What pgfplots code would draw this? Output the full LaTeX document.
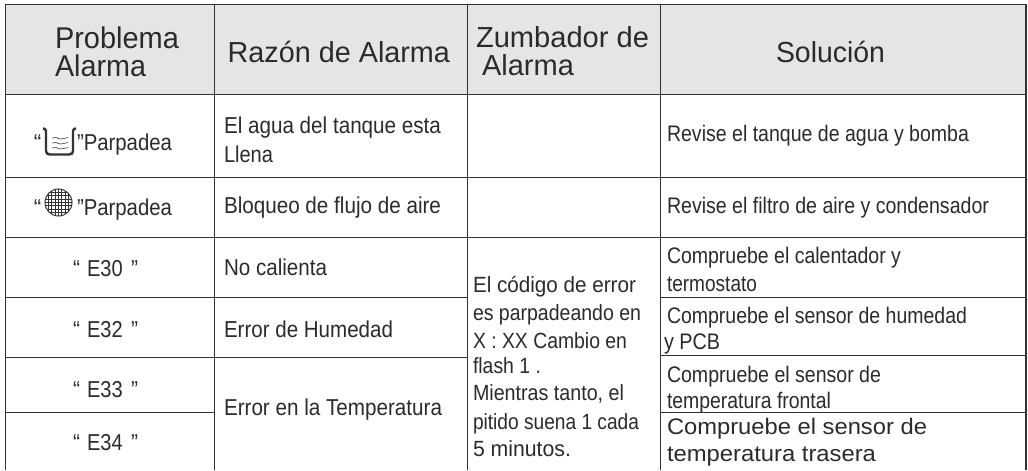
\documentclass[border=0pt]{standalone}
\usepackage{fontspec}
\setmainfont{Liberation Sans}
\usepackage{graphicx}
\usepackage{pgfplots}
\pgfplotsset{compat=1.18}
\definecolor{hdr}{HTML}{E3E5E7}
\definecolor{ink}{HTML}{2B2B2D}
\definecolor{rule}{HTML}{333335}
\newcommand{\seg}[5][0.95pt]{\addplot[draw=rule,line width=#1] coordinates {(#2,#3)(#4,#5)};}
% left, right, baseline, size, text
\newcommand{\txt}[5]{%
  \node[anchor=base west,inner sep=0pt,outer sep=0pt,text=ink] at (axis cs:#1,#3)
   {\resizebox{\dimexpr #2pt-#1pt\relax}{\height}{\fontsize{#4}{#4}\selectfont #5}};}
\begin{document}
\begin{tikzpicture}
\begin{axis}[
  scale only axis, width=1028pt, height=470pt,
  xmin=0, xmax=1028, ymin=0, ymax=470, y dir=reverse,
  hide axis, clip=false]
\addplot[fill=white,draw=none] coordinates {(0,0)(1028,0)(1028,470)(0,470)};
\addplot[fill=hdr,draw=none] coordinates {(5,5)(1026,5)(1026,94)(5,94)};
% rules
\seg[1.1pt]{4.5}{4.5}{1026.5}{4.5}
\seg{5}{4.5}{5}{470}
\seg[1.2pt]{1026}{4.5}{1026}{470}
\seg{214}{4.5}{214}{470}
\seg{467}{4.5}{467}{470}
\seg{660}{4.5}{660}{470}
\seg{5}{94.5}{1026}{94.5}
\seg{5}{177}{1026}{177}
\seg[1.5pt]{5}{237.5}{1026}{237.5}
\seg{5}{297.5}{467}{297.5}
\seg{5}{357}{467}{357}
\seg{5}{412.5}{214}{412.5}
\seg{660}{297}{1026}{297}
\seg{660}{355.5}{1026}{355.5}
\seg{660}{412.5}{1026}{412.5}
% header
\txt{55}{179}{49}{30}{Problema}
\txt{55}{146}{76.7}{30}{Alarma}
\txt{227.7}{450}{62.3}{29}{Razón de Alarma}
\txt{476}{649}{48}{29}{Zumbador de}
\txt{482}{574}{76}{29}{Alarma}
\txt{776}{885}{62.3}{29}{Solución}
% column 1
\txt{34}{41.5}{150.7}{23}{“}
\txt{77}{172}{150.7}{23}{”Parpadea}
\txt{34}{41.5}{215}{23}{“}
\txt{77}{172}{215}{23}{”Parpadea}
\txt{73}{80}{276}{23}{“}
\txt{87}{122.7}{276}{23}{E30}
\txt{131}{138}{276}{23}{”}
\txt{73}{80}{337}{23}{“}
\txt{87}{122.7}{337}{23}{E32}
\txt{131}{138}{337}{23}{”}
\txt{73}{80}{397}{23}{“}
\txt{87}{122.7}{397}{23}{E33}
\txt{131}{138}{397}{23}{”}
\txt{73}{80}{450}{23}{“}
\txt{87}{122.7}{450}{23}{E34}
\txt{131}{138}{450}{23}{”}
% column 2
\txt{224}{441}{134}{23}{El agua del tanque esta}
\txt{224}{273}{162}{23}{Llena}
\txt{224}{441}{213}{23}{Bloqueo de flujo de aire}
\txt{224}{327}{275}{23}{No calienta}
\txt{224}{393}{337}{23}{Error de Humedad}
\txt{224}{442}{415}{23}{Error en la Temperatura}
% column 3
\txt{473}{636}{292.7}{22}{El código de error}
\txt{473}{641}{320.7}{22}{es parpadeando en}
\txt{473}{627}{348.3}{22}{X : XX Cambio en}
\txt{473}{541}{373.3}{22}{flash 1 .}
\txt{473}{624}{400.7}{22}{Mientras tanto, el}
\txt{473}{639}{429}{22}{pitido suena 1 cada}
\txt{473}{571}{456}{22}{5 minutos.}
% column 4
\txt{667}{969}{141.7}{22.5}{Revise el tanque de agua y bomba}
\txt{667}{989}{213}{22.5}{Revise el filtro de aire y condensador}
\txt{667}{901}{263}{22.5}{Compruebe el calentador y}
\txt{667}{757}{291}{22.5}{termostato}
\txt{667}{967}{323}{22.5}{Compruebe el sensor de humedad}
\txt{664}{720}{349}{22.5}{y PCB}
\txt{667}{881}{382}{22.5}{Compruebe el sensor de}
\txt{667}{831}{408}{22.5}{temperatura frontal}
\txt{667}{927}{434}{22.5}{Compruebe el sensor de}
\txt{667}{876}{461}{22.5}{temperatura trasera}
% tank icon
\addplot[draw=rule,line width=2.4pt] coordinates {(43,128.5)(45,129)(46,131)(46,151)(47,153.5)(50,154.5)(69,154.5)(72,153.5)(73,151)(73,131)(74,129)(76,128.5)};
\addplot[draw=rule,line width=0.6pt] coordinates {(52,138)(56,137.5)(60,139)(64,138.5)(68,137.5)};
\addplot[draw=rule,line width=0.6pt] coordinates {(52,143)(56,142.5)(60,144)(64,143.5)(68,142.5)};
\addplot[draw=rule,line width=0.6pt] coordinates {(52,148)(56,147.5)(60,149)(64,148.5)(68,147.5)};
% grid icon
\draw[rule,line width=1pt] (axis cs:58.5,202.5) circle [radius=13.5pt];
\addplot[draw=rule,line width=0.7pt] coordinates {(48.5,193.4)(48.5,211.6)};
\addplot[draw=rule,line width=0.7pt] coordinates {(51.8,190.8)(51.8,214.2)};
\addplot[draw=rule,line width=0.7pt] coordinates {(55.2,189.4)(55.2,215.6)};
\addplot[draw=rule,line width=0.7pt] coordinates {(58.5,189)(58.5,216)};
\addplot[draw=rule,line width=0.7pt] coordinates {(61.8,189.4)(61.8,215.6)};
\addplot[draw=rule,line width=0.7pt] coordinates {(65.2,190.8)(65.2,214.2)};
\addplot[draw=rule,line width=0.7pt] coordinates {(68.5,193.4)(68.5,211.6)};
\addplot[draw=rule,line width=0.7pt] coordinates {(49.4,192.5)(67.6,192.5)};
\addplot[draw=rule,line width=0.7pt] coordinates {(46.8,195.8)(70.2,195.8)};
\addplot[draw=rule,line width=0.7pt] coordinates {(45.4,199.2)(71.6,199.2)};
\addplot[draw=rule,line width=0.7pt] coordinates {(45,202.5)(72,202.5)};
\addplot[draw=rule,line width=0.7pt] coordinates {(45.4,205.8)(71.6,205.8)};
\addplot[draw=rule,line width=0.7pt] coordinates {(46.8,209.2)(70.2,209.2)};
\addplot[draw=rule,line width=0.7pt] coordinates {(49.4,212.5)(67.6,212.5)};
\end{axis}
\end{tikzpicture}
\end{document}
